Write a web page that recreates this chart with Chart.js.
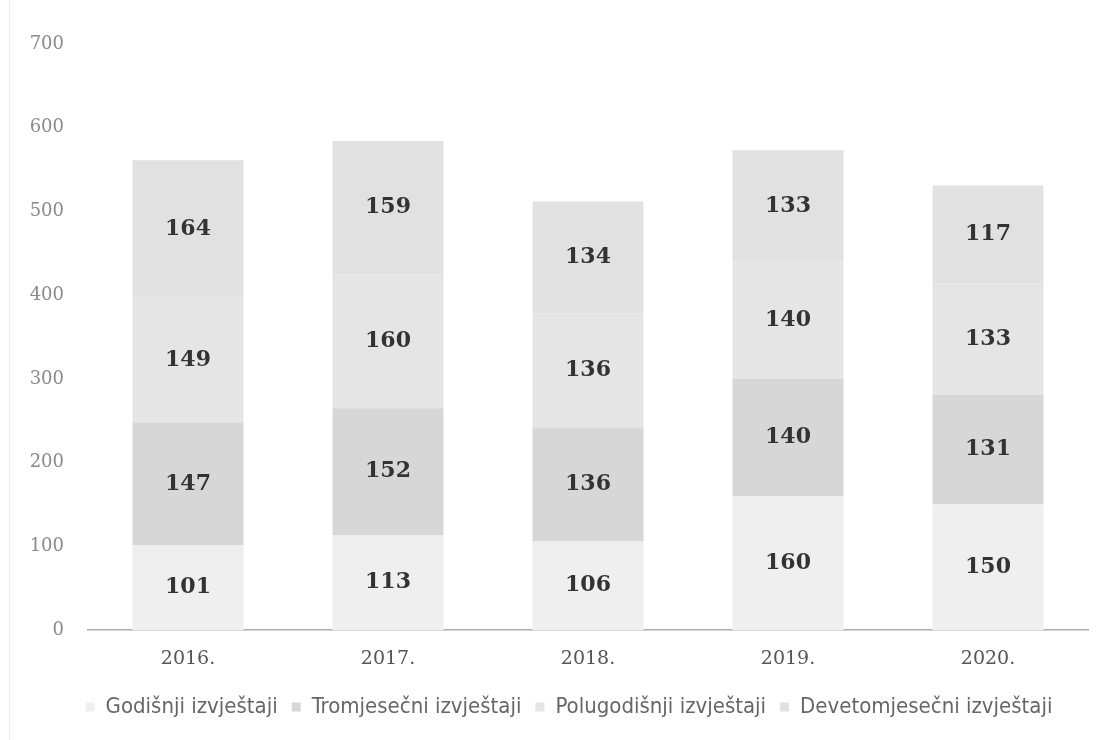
<!DOCTYPE html>
<html>
<head>
<meta charset="utf-8">
<script src="https://cdn.jsdelivr.net/npm/chart.js@4/dist/chart.umd.min.js"></script>
<style>
html,body{margin:0;padding:0;background:#fff;}
#wrap{position:relative;width:1104px;height:740px;}
#edge{position:absolute;left:9px;top:0;width:1px;height:740px;background:#eee;}
canvas{position:absolute;left:0;top:0;}
</style>
</head>
<body>
<div id="wrap"><div id="edge"></div><canvas id="c" width="1104" height="740"></canvas></div>
<script>
const categories = ['2016.', '2017.', '2018.', '2019.', '2020.'];
const godisnji = [101, 113, 106, 160, 150];
const tromjesecni = [147, 152, 136, 140, 131];
const polugodisnji = [149, 160, 136, 140, 133];
const devetomjesecni = [164, 159, 134, 133, 117];
const seriesNames = ['Godišnji izvještaji', 'Tromjesečni izvještaji', 'Polugodišnji izvještaji', 'Devetomjesečni izvještaji'];
const seriesColors = ['#efefef', '#d7d7d7', '#e5e5e5', '#e1e1e1'];
const yTicks = [0, 100, 200, 300, 400, 500, 600, 700];

const seriesData = [godisnji, tromjesecni, polugodisnji, devetomjesecni];

const labelPlugin = {
  id: 'segLabels',
  afterLayout(chart) {
    if (chart.legend) {
      chart.legend.left = 50;
      chart.legend.right = chart.chartArea.right;
    }
  },
  afterDatasetsDraw(chart) {
    const ctx = chart.ctx;
    ctx.save();
    ctx.font = 'bold 22px "DejaVu Serif", serif';
    ctx.textAlign = 'center';
    ctx.textBaseline = 'middle';
    chart.data.datasets.forEach((ds, i) => {
      const meta = chart.getDatasetMeta(i);
      meta.data.forEach((bar, j) => {
        const y = (bar.y + bar.base) / 2;
        ctx.fillStyle = '#333';
        ctx.fillText(String(ds.data[j]), bar.x, y);
      });
    });
    ctx.restore();
  }
};

new Chart(document.getElementById('c'), {
  type: 'bar',
  data: {
    labels: categories,
    datasets: seriesData.map((d, i) => ({
      label: seriesNames[i],
      data: d,
      backgroundColor: seriesColors[i],
      borderWidth: 0,
      barPercentage: 0.555,
      categoryPercentage: 1.0
    }))
  },
  options: {
    responsive: false,
    animation: false,
    devicePixelRatio: 1,
    layout: { padding: { top: 44, right: 16, bottom: 12, left: 0 } },
    plugins: {
      tooltip: { enabled: false },
      legend: {
        position: 'bottom',
        labels: {
          boxWidth: 9,
          boxHeight: 9,
          padding: 14,
          color: '#666',
          font: { family: '"Liberation Sans Narrow", "DejaVu Sans Condensed", sans-serif', size: 22 }
        }
      }
    },
    scales: {
      x: {
        stacked: true,
        grid: { display: false },
        border: { display: true, color: '#b0b0b0', width: 1.5 },
        ticks: { color: '#555', padding: 10, font: { family: '"DejaVu Serif", serif', size: 19 } },
        afterFit(s) { s.height = 52; }
      },
      y: {
        stacked: true,
        min: 0,
        max: 700,
        afterBuildTicks(s) { s.ticks = yTicks.map(v => ({ value: v })); },
        grid: { display: false },
        border: { display: false },
        ticks: { color: '#8a8a8a', padding: 16, font: { family: '"DejaVu Serif", serif', size: 18 } },
        afterFit(s) { s.width = 88; }
      }
    }
  },
  plugins: [labelPlugin]
});
</script>
</body>
</html>
